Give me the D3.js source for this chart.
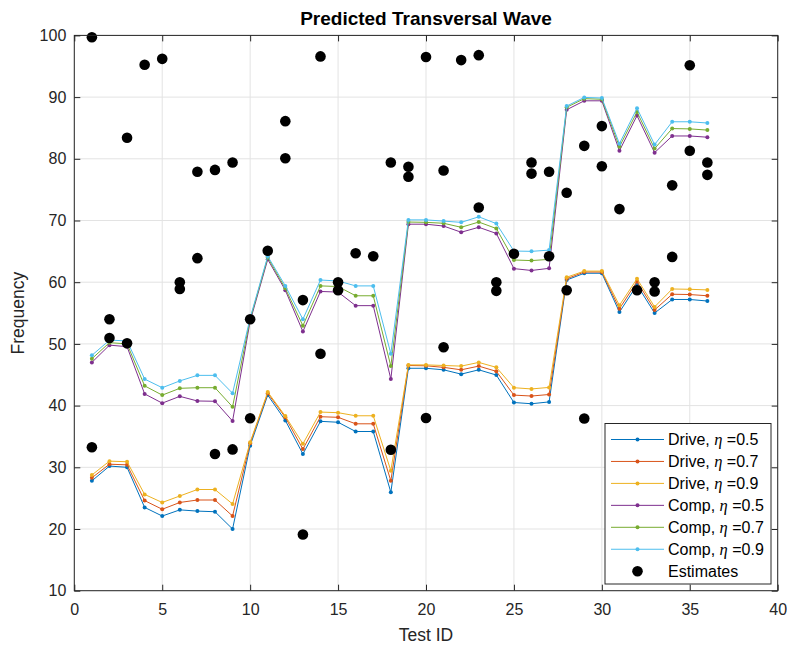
<!DOCTYPE html>
<html>
<head>
<meta charset="utf-8">
<script src="https://cdn.jsdelivr.net/npm/d3@7/dist/d3.min.js"></script>
<style>
  html, body { margin: 0; padding: 0; background: #fff; }
  svg { display: block; font-family: "Liberation Sans", Arial, Helvetica, sans-serif; }
</style>
</head>
<body>
<svg id="chart" width="787" height="646"></svg>
<script>
// Test IDs along the x axis
const testIds = [1,2,3,4,5,6,7,8,9,10,11,12,13,14,15,16,17,18,19,20,21,22,23,24,25,26,27,28,29,30,31,32,33,34,35,36];

// Predicted frequencies, drive model
const drive05 = [27.8,30.2,30.0,23.5,22.1,23.1,22.9,22.8,20.0,33.5,41.7,37.6,32.15,37.45,37.3,35.8,35.8,25.95,46.05,46.05,45.8,45.1,45.8,44.95,40.5,40.3,40.6,60.35,61.45,61.45,55.15,59.55,55.0,57.2,57.2,56.95];
const drive07 = [28.3,30.5,30.4,24.6,23.2,24.3,24.7,24.7,22.1,33.9,42.0,38.1,32.95,38.2,38.1,37.05,37.05,27.8,46.5,46.45,46.2,45.8,46.4,45.55,41.7,41.55,41.8,60.55,61.65,61.65,55.7,60.1,55.5,58.05,58.0,57.8];
const drive09 = [28.75,31.0,30.9,25.6,24.3,25.35,26.4,26.4,24.05,34.05,42.2,38.3,33.8,38.95,38.85,38.35,38.35,29.45,46.6,46.6,46.5,46.4,47.0,46.2,42.9,42.7,42.95,60.8,61.8,61.8,56.25,60.55,56.0,58.9,58.85,58.75];

// Predicted frequencies, comp model
const comp05 = [47.0,49.8,49.55,41.9,40.4,41.5,40.75,40.7,37.5,53.7,63.7,58.7,52.0,58.5,58.4,56.2,56.2,44.3,69.4,69.4,69.1,68.1,68.9,67.9,62.2,61.9,62.25,87.95,89.4,89.4,81.3,87.0,81.0,83.7,83.7,83.5];
const comp07 = [47.6,50.2,50.0,43.2,41.7,42.8,42.9,42.9,39.8,54.0,64.0,59.0,52.95,59.4,59.3,57.8,57.8,46.4,69.75,69.7,69.55,68.9,69.75,68.7,63.6,63.5,63.7,88.35,89.75,89.65,81.95,87.6,81.65,84.9,84.85,84.65];
const comp09 = [48.15,50.6,50.5,44.3,42.9,44.0,44.9,44.9,42.0,54.2,64.2,59.4,54.0,60.35,60.2,59.4,59.4,48.4,70.1,70.1,69.9,69.7,70.6,69.5,65.05,65.0,65.2,88.55,89.95,89.85,82.45,88.2,82.3,86.0,86.0,85.8];

// Measured estimates (test ID, frequency)
const estimateIds = [1,1,2,2,3,3,4,5,6,6,7,7,8,8,9,9,10,10,11,12,12,13,13,14,14,15,15,16,17,18,18,19,19,20,20,21,21,22,23,23,24,24,25,26,26,27,27,28,28,29,29,30,30,31,32,33,33,34,34,35,35,36,36];
const estimateValues = [99.7,33.25,54.0,50.95,83.4,50.1,95.25,96.2,60.0,58.9,77.9,63.9,78.2,32.15,79.4,32.9,54.0,37.95,65.1,86.1,80.1,57.1,19.1,96.6,48.4,60.0,58.7,64.7,64.2,79.4,32.85,78.7,77.1,96.5,38.0,78.1,49.45,96.0,96.8,72.1,60.0,58.6,64.6,79.4,77.6,77.9,64.2,74.5,58.7,82.1,37.9,85.3,78.8,71.85,58.7,60.0,58.5,75.7,64.1,95.15,81.3,79.4,77.4];

// Axis ticks
const xTicks = [0,5,10,15,20,25,30,35,40];
const yTicks = [10,20,30,40,50,60,70,80,90,100];

const seriesNames = ["Drive", "Drive", "Drive", "Comp", "Comp", "Comp"];
const seriesEta = ["0.5", "0.7", "0.9", "0.5", "0.7", "0.9"];

const series = [drive05, drive07, drive09, comp05, comp07, comp09].map((vals, i) => ({
  name: seriesNames[i], eta: seriesEta[i], values: vals
}));
const colors = ["#0072BD", "#D95319", "#EDB120", "#7E2F8E", "#77AC30", "#4DBEEE"];
const axisColor = "#262626";

const plot = { left: 74.3, right: 777.7, top: 35.4, bottom: 590.7 };
const svg = d3.select("#chart");

const x = d3.scaleLinear().domain([0, 40]).range([plot.left, plot.right]);
const y = d3.scaleLinear().domain([10, 100]).range([plot.bottom, plot.top]);

// Background grid
const grid = svg.append("g").attr("stroke", "#e3e3e3").attr("stroke-width", 1);
grid.selectAll("line.gx").data(xTicks).join("line")
  .attr("x1", d => x(d)).attr("x2", d => x(d))
  .attr("y1", plot.top).attr("y2", plot.bottom);
grid.selectAll("line.gy").data(yTicks).join("line")
  .attr("y1", d => y(d)).attr("y2", d => y(d))
  .attr("x1", plot.left).attr("x2", plot.right);

// Series lines with point markers
const line = d3.line().x((d, i) => x(testIds[i])).y(d => y(d));
series.forEach((s, k) => {
  const g = svg.append("g");
  g.append("path").datum(s.values)
    .attr("fill", "none").attr("stroke", colors[k]).attr("stroke-width", 1)
    .attr("d", line);
  g.selectAll("circle").data(s.values).join("circle")
    .attr("cx", (d, i) => x(testIds[i])).attr("cy", d => y(d))
    .attr("r", 2).attr("fill", colors[k]);
});

// Estimates
svg.append("g").selectAll("circle").data(estimateValues).join("circle")
  .attr("cx", (d, i) => x(estimateIds[i])).attr("cy", d => y(d))
  .attr("r", 5.3).attr("fill", "#000");

// Axes (box with inward ticks on all sides)
const tickLen = 6;
const fontSize = 16;
const axisBottom = d3.axisBottom(x).tickValues(xTicks).tickSize(-tickLen).tickPadding(13);
const axisLeft = d3.axisLeft(y).tickValues(yTicks).tickSize(-tickLen).tickPadding(8);
const axisTop = d3.axisTop(x).tickValues(xTicks).tickSize(-tickLen).tickFormat("");
const axisRight = d3.axisRight(y).tickValues(yTicks).tickSize(-tickLen).tickFormat("");

function styleAxis(g) {
  g.select(".domain").attr("stroke", axisColor).attr("stroke-width", 1);
  g.selectAll(".tick line").attr("stroke", axisColor);
  g.selectAll(".tick text").attr("fill", axisColor).attr("font-size", fontSize)
    .attr("font-family", "Liberation Sans, Arial, sans-serif");
}
svg.append("g").attr("transform", `translate(0,${plot.bottom})`).call(axisBottom).call(styleAxis);
svg.append("g").attr("transform", `translate(${plot.left},0)`).call(axisLeft).call(styleAxis);
svg.append("g").attr("transform", `translate(0,${plot.top})`).call(axisTop).call(styleAxis);
svg.append("g").attr("transform", `translate(${plot.right},0)`).call(axisRight).call(styleAxis);
svg.selectAll(".domain").attr("d", null);
svg.append("rect")
  .attr("x", plot.left).attr("y", plot.top)
  .attr("width", plot.right - plot.left).attr("height", plot.bottom - plot.top)
  .attr("fill", "none").attr("stroke", axisColor).attr("stroke-width", 1);

// Title and axis labels
svg.append("text")
  .attr("x", (plot.left + plot.right) / 2).attr("y", 25)
  .attr("text-anchor", "middle").attr("font-size", 19).attr("font-weight", "bold")
  .attr("fill", "#000").text("Predicted Transversal Wave");
svg.append("text")
  .attr("x", (plot.left + plot.right) / 2).attr("y", 641)
  .attr("text-anchor", "middle").attr("font-size", 17.5).attr("fill", axisColor)
  .text("Test ID");
svg.append("text")
  .attr("transform", `translate(24,${(plot.top + plot.bottom) / 2}) rotate(-90)`)
  .attr("text-anchor", "middle").attr("font-size", 17.5).attr("fill", axisColor)
  .text("Frequency");

// Legend
const legend = { x: 605, y: 423.5, w: 166, h: 160.5 };
const lg = svg.append("g");
lg.append("rect")
  .attr("x", legend.x).attr("y", legend.y).attr("width", legend.w).attr("height", legend.h)
  .attr("fill", "#fff").attr("stroke", axisColor).attr("stroke-width", 1);
const rowY = i => 439.5 + i * 21.95;
series.forEach((s, k) => {
  const cy = rowY(k);
  lg.append("line").attr("x1", 611).attr("x2", 664).attr("y1", cy).attr("y2", cy)
    .attr("stroke", colors[k]).attr("stroke-width", 1);
  lg.append("circle").attr("cx", 637.5).attr("cy", cy).attr("r", 2).attr("fill", colors[k]);
  const t = lg.append("text").attr("x", 668).attr("y", cy + 5.5)
    .attr("font-size", 16).attr("fill", "#000");
  t.append("tspan").text(s.name + ", ");
  t.append("tspan").attr("font-family", "Liberation Serif, Times New Roman, serif")
    .attr("font-style", "italic").attr("font-size", 16.5).text("η");
  t.append("tspan").text(" =" + s.eta);
});
const ey = rowY(6);
lg.append("circle").attr("cx", 637.5).attr("cy", ey).attr("r", 5.3).attr("fill", "#000");
lg.append("text").attr("x", 668).attr("y", ey + 5.5).attr("font-size", 16).attr("fill", "#000")
  .text("Estimates");
</script>
</body>
</html>
